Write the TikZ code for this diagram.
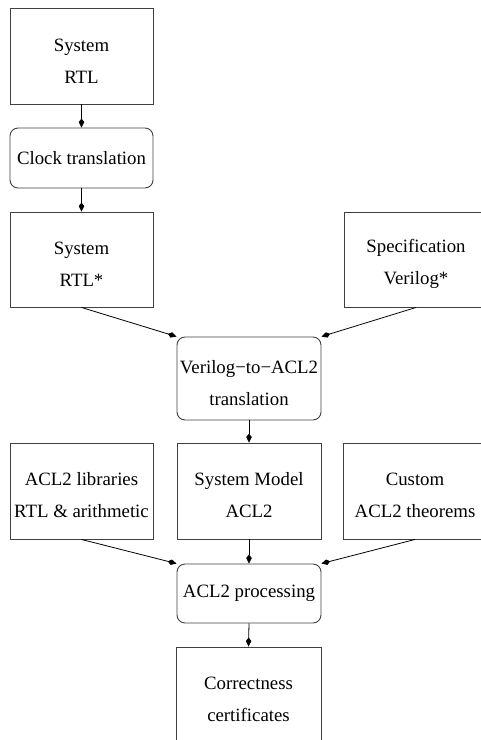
\documentclass[tikz,border=0pt]{standalone}
\usepackage{fontspec}
\setmainfont{Liberation Serif}
\usetikzlibrary{arrows.meta}
\newcommand{\tpad}{\rule{0pt}{22pt}}
\tikzset{
  box/.style={draw=black!75, line width=0.9pt, fill=white, inner sep=0pt, align=center,
    font=\fontsize{18.8}{32}\selectfont},
  rbox/.style={box, rounded corners=8pt},
  conn/.style={draw=black, line width=0.8pt, -{Kite[length=9pt,width=5.5pt,inset=3.5pt]}},
}
\begin{document}
\begin{tikzpicture}[x=1pt,y=-1pt]
\clip (0,0) rectangle (481,740);
\useasboundingbox (0,0) rectangle (481,740);
\node[box, minimum width=143pt, minimum height=96pt] (sys) at (81.5,56) {\tpad System\\RTL};
\node[rbox, minimum width=143pt, minimum height=60pt] (clock) at (81.5,158) {Clock translation};
\node[box, minimum width=143pt, minimum height=95pt] (sysstar) at (81.5,259.5) {\tpad System\\RTL*};
\node[box, minimum width=144pt, minimum height=95pt] (spec) at (416,259.5) {\tpad Specification\\Verilog*};
\node[rbox, minimum width=144pt, minimum height=83pt] (v2a) at (249,378.5) {\tpad Verilog−to−ACL2\\translation};
\node[box, minimum width=143pt, minimum height=96pt] (libs) at (81.5,491) {\tpad ACL2 libraries\\RTL \& arithmetic};
\node[box, minimum width=144pt, minimum height=96pt] (model) at (249,491) {\tpad System Model\\ACL2};
\node[box, minimum width=144pt, minimum height=96pt] (custom) at (415,491) {\tpad Custom\\ACL2 theorems};
\node[rbox, minimum width=144pt, minimum height=59pt] (proc) at (249,593.5) {ACL2 processing};
\node[box, minimum width=145pt, minimum height=96pt] (cert) at (248.5,695) {\tpad Correctness\\certificates};
\draw[conn] (sys.south) -- (clock.north);
\draw[conn] (clock.south) -- (sysstar.north);
\draw[conn] (sysstar.south) -- (v2a.north west);
\draw[conn] (spec.south) -- (v2a.north east);
\draw[conn] (v2a.south) -- (model.north);
\draw[conn] (libs.south) -- (proc.north west);
\draw[conn] (model.south) -- (proc.north);
\draw[conn] (custom.south) -- (proc.north east);
\draw[conn] (proc.south) -- (cert.north);
\end{tikzpicture}
\end{document}
